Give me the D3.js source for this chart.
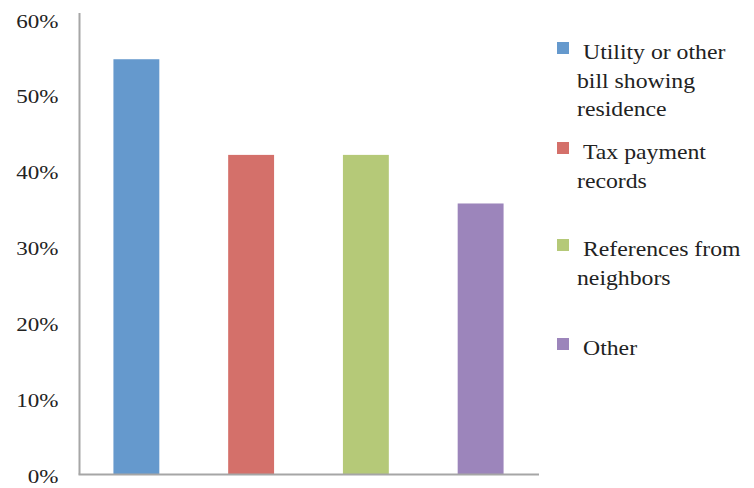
<!DOCTYPE html>
<html><head><meta charset="utf-8">
<script src="https://cdn.jsdelivr.net/npm/d3@7"></script>
</head><body style="margin:0;background:#fff">
<svg id="c" width="754" height="488" style="display:block;font-family:'Liberation Serif'"></svg>
<script>
const categories = ["Utility or other bill showing residence", "Tax payment records", "References from neighbors", "Other"];
const values = [54.7, 42.1, 42.1, 35.7];
const colors = ["#6599cd", "#d4706a", "#b5c978", "#9c85bb"];
const tickValues = [0, 10, 20, 30, 40, 50, 60];
const legendLines = [["Utility or other", "bill showing", "residence"], ["Tax payment", "records"], ["References from", "neighbors"], ["Other"]];

const svg = d3.select("#c");
const x = d3.scaleBand().domain(categories).range([79, 538]).paddingInner(0.6).paddingOuter(0.3);
const y = d3.scaleLinear().domain([0, 60]).range([474.5, 19]);

function stretch(sel, k) {
  sel.each(function () {
    const w = this.getComputedTextLength();
    d3.select(this).attr("textLength", w * k).attr("lengthAdjust", "spacingAndGlyphs");
  });
}

// bars
svg.selectAll("rect.bar").data(values).join("rect")
  .attr("class", "bar")
  .attr("x", (d, i) => x(categories[i]))
  .attr("width", x.bandwidth())
  .attr("y", d => y(d))
  .attr("height", d => y(0) - y(d))
  .attr("fill", (d, i) => colors[i]);

// axes
const yAxis = d3.axisLeft(y).tickValues(tickValues).tickSize(0).tickFormat(d => d + "%");
const gy = svg.append("g").attr("transform", "translate(79.5,0)").call(yAxis);
gy.attr("font-family", "Liberation Serif").attr("font-size", 18);
gy.select(".domain").remove();
gy.append("line").attr("x1", 0).attr("x2", 0).attr("y1", y(60) - 6).attr("y2", y(0))
  .attr("stroke", "#a6a6a6").attr("stroke-width", 2);
gy.selectAll(".tick text")
  .attr("x", -21).attr("dy", 8)
  .attr("fill", "#222")
  .style("font-family", `"Liberation Serif"`)
  .style("font-size", "18px")
  .attr("text-anchor", "end")
  .call(stretch, 1.28);

const xAxis = d3.axisBottom(x).tickSize(0).tickFormat("");
const gx = svg.append("g").attr("transform", "translate(0," + y(0) + ")").call(xAxis);
gx.select(".domain").attr("stroke", "#a6a6a6").attr("stroke-width", 2).attr("d", "M78.5,0H539");

// legend
const legTops = [42, 142, 239, 338];
const lg = svg.append("g").attr("font-family", "Liberation Serif");
legendLines.forEach((lines, i) => {
  lg.append("rect").attr("x", 557).attr("y", legTops[i]).attr("width", 12).attr("height", 12).attr("fill", colors[i]);
  lines.forEach((t, j) => {
    lg.append("text")
      .attr("x", j === 0 ? 583 : 577)
      .attr("y", legTops[i] + 17 + j * 28.5)
      .attr("fill", "#222")
      .style("font-family", `"Liberation Serif"`)
      .style("font-size", "21px")
      .text(t)
      .call(stretch, 1.13);
  });
});
</script>
</body></html>
